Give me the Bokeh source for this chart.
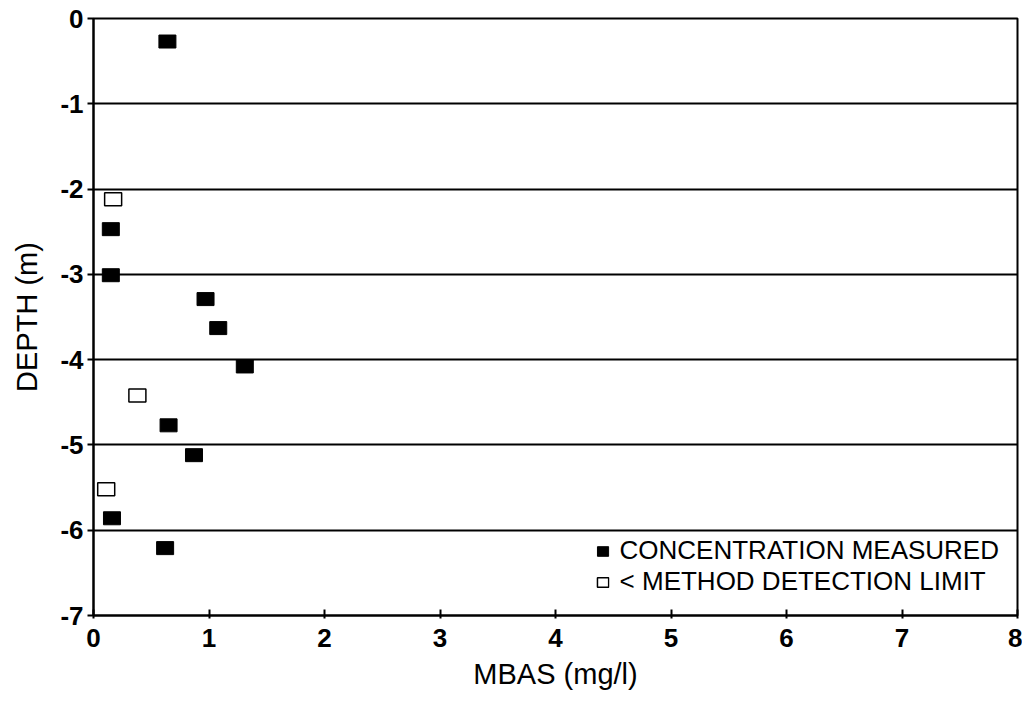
from bokeh.plotting import figure
from bokeh.models import Range1d, FixedTicker, Legend, LegendItem, ColumnDataSource, PrintfTickFormatter
from bokeh.embed import file_html
from bokeh.resources import INLINE

# Measured concentrations
meas_mbas = [0.64, 0.15, 0.15, 0.97, 1.08, 1.31, 0.65, 0.87, 0.16, 0.62]
meas_depth = [-0.27, -2.47, -3.01, -3.29, -3.63, -4.08, -4.77, -5.12, -5.86, -6.21]
# Below method detection limit
mdl_mbas = [0.17, 0.38, 0.11]
mdl_depth = [-2.12, -4.42, -5.52]

x_ticks = [0, 1, 2, 3, 4, 5, 6, 7, 8]
y_ticks = [0, -1, -2, -3, -4, -5, -6, -7]

p = figure(width=1022, height=700, output_backend="svg", toolbar_location=None,
           x_range=Range1d(0, 8), y_range=Range1d(-7, 0),
           min_border_left=93, min_border_right=5, min_border_top=18, min_border_bottom=85)

p.background_fill_color = "white"
p.border_fill_color = "white"
p.outline_line_color = "black"
p.outline_line_width = 2

p.xgrid.grid_line_color = None
p.ygrid.grid_line_color = "black"
p.ygrid.grid_line_width = 2
p.ygrid.ticker = FixedTicker(ticks=y_ticks)

p.xaxis.ticker = FixedTicker(ticks=x_ticks)
p.yaxis.ticker = FixedTicker(ticks=y_ticks)
for ax in (p.xaxis[0], p.yaxis[0]):
    ax.formatter = PrintfTickFormatter(format="%d")
    ax.axis_line_color = "black"
    ax.axis_line_width = 2
    ax.major_tick_line_color = "black"
    ax.major_tick_line_width = 2
    ax.minor_tick_line_color = None
    ax.major_label_text_font = "Liberation Sans"
    ax.major_label_text_font_style = "bold"
    ax.major_label_text_font_size = "26px"
    ax.major_label_text_color = "black"
    ax.axis_label_text_font = "Liberation Sans"
    ax.axis_label_text_font_style = "normal"
    ax.axis_label_text_font_size = "29px"
    ax.axis_label_text_color = "black"

p.xaxis.major_tick_in = 6
p.xaxis.major_tick_out = 3
p.yaxis.major_tick_in = 0
p.yaxis.major_tick_out = 6
p.xaxis.major_label_standoff = 10
p.yaxis.major_label_standoff = 4
p.xaxis.axis_label = "MBAS (mg/l)"
p.yaxis.axis_label = "DEPTH (m)"
p.xaxis.axis_label_standoff = 8
p.yaxis.axis_label_standoff = 14

src_m = ColumnDataSource(dict(x=meas_mbas, y=meas_depth))
src_d = ColumnDataSource(dict(x=mdl_mbas, y=mdl_depth))

r1 = p.rect("x", "y", width=17, height=13, width_units="screen", height_units="screen",
            source=src_m, fill_color="black", line_color="black", line_width=1)
r2 = p.rect("x", "y", width=17, height=13, width_units="screen", height_units="screen",
            source=src_d, fill_color="white", line_color="black", line_width=1.5)

legend = Legend(items=[LegendItem(label="CONCENTRATION MEASURED", renderers=[r1]),
                       LegendItem(label="< METHOD DETECTION LIMIT", renderers=[r2])],
                location="bottom_right")
legend.background_fill_alpha = 0
legend.border_line_alpha = 0
legend.label_text_font = "Liberation Sans"
legend.label_text_font_size = "26px"
legend.label_text_color = "black"
legend.glyph_width = 14
legend.glyph_height = 12
legend.label_standoff = 10
legend.spacing = 0
legend.margin = 14
legend.padding = 4
p.add_layout(legend)

open("out.html", "w").write(file_html(p, INLINE))
